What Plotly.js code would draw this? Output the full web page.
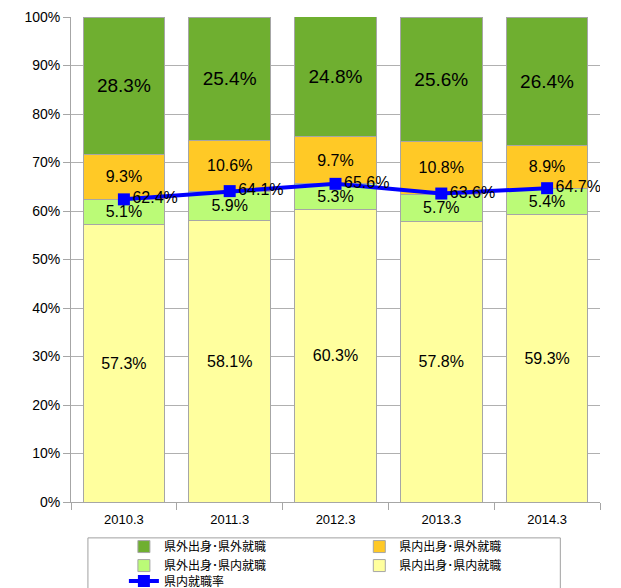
<!DOCTYPE html>
<html>
<head>
<meta charset="utf-8">
<script src="https://cdn.plot.ly/plotly-3.0.1.min.js"></script>
<style>
  body { margin: 0; background: #fff; }
  #chart { width: 621px; height: 588px; }
</style>
</head>
<body>
<div id="chart"></div>
<script>
// years (March of each year)
var years = ['2010.3', '2011.3', '2012.3', '2013.3', '2014.3']

// share of graduates, percent, bottom of the stack first
var inInStay = [57.3, 58.1, 60.3, 57.8, 59.3]   // 県内出身・県内就職
var outInStay = [5.1, 5.9, 5.3, 5.7, 5.4]       // 県外出身・県内就職
var inOutLeave = [9.3, 10.6, 9.7, 10.8, 8.9]    // 県内出身・県外就職
var outOutLeave = [28.3, 25.4, 24.8, 25.6, 26.4] // 県外出身・県外就職
// rate of employment inside the prefecture
var stayRate = [62.4, 64.1, 65.6, 63.6, 64.7]

var jp = '"Noto Sans CJK JP", "Liberation Sans", sans-serif'
var edge = {color: '#a6a6a6', width: 1}

function stackBar(name, vals, color, leg, rank, size){
	return {
		type: 'bar',
		name: name,
		x: years,
		y: vals,
		marker: {color: color, line: edge},
		text: vals.map(function(v){ return v.toFixed(1) + '%' }),
		textposition: 'inside',
		insidetextanchor: 'middle',
		textangle: 0,
		constraintext: 'none',
		textfont: {family: 'Liberation Sans, sans-serif', size: size, color: '#000'},
		hoverinfo: 'skip',
		legend: leg,
		legendrank: rank
	}
}

var data = [
	stackBar('県内出身･県内就職', inInStay, '#ffff9e', 'legend2', 2, 16),
	stackBar('県外出身･県内就職', outInStay, '#bbfb77', 'legend', 2, 16),
	stackBar('県内出身･県外就職', inOutLeave, '#ffc926', 'legend2', 1, 16),
	stackBar('県外出身･県外就職', outOutLeave, '#6faf30', 'legend', 1, 19),
	{
		type: 'scatter',
		mode: 'lines+markers+text',
		name: '県内就職率',
		x: years,
		y: stayRate,
		line: {color: '#0000ff', width: 4},
		marker: {color: '#0000ff', symbol: 'square', size: 12},
		text: stayRate.map(function(v){ return v.toFixed(1) + '%' }),
		textposition: 'middle right',
		textfont: {family: 'Liberation Sans, sans-serif', size: 16, color: '#000'},
		legend: 'legend3'
	}
]

var legendBase = {
	orientation: 'v',
	traceorder: 'normal',
	xanchor: 'left',
	y: -0.062,
	yanchor: 'top',
	bgcolor: 'rgba(0,0,0,0)',
	borderwidth: 0,
	font: {family: jp, size: 12},
	tracegroupgap: 0,
	itemwidth: 30
}

var layout = {
	width: 621,
	height: 588,
	margin: {l: 71, r: 21, t: 17, b: 86, autoexpand: false},
	barmode: 'stack',
	bargap: 0.23,
	paper_bgcolor: '#fff',
	plot_bgcolor: '#fff',
	font: {family: jp, size: 13, color: '#000'},
	showlegend: true,
	xaxis: {
		type: 'category',
		showline: true,
		linecolor: '#a6a6a6',
		ticks: 'outside',
		tickson: 'boundaries',
		ticklen: 7,
		tickcolor: '#a6a6a6',
		ticklabelstandoff: 5,
		tickfont: {family: 'Liberation Sans, sans-serif', size: 13},
		showgrid: false
	},
	yaxis: {
		range: [0, 100],
		dtick: 10,
		ticksuffix: '%',
		showline: true,
		linecolor: '#a6a6a6',
		ticks: 'outside',
		ticklen: 7,
		tickcolor: '#a6a6a6',
		showgrid: true,
		gridcolor: '#b0b0b0',
		zeroline: false,
		tickfont: {family: 'Liberation Sans, sans-serif', size: 14}
	},
	legend: Object.assign({}, legendBase, {x: 0.1}),
	legend2: Object.assign({}, legendBase, {x: 0.545}),
	legend3: Object.assign({}, legendBase, {x: 0.1, y: -0.133}),
	// legend frame (runs off the bottom of the picture)
	shapes: [{
		type: 'rect',
		xref: 'paper', yref: 'paper',
		x0: 0.032, x1: 0.925,
		y0: -0.074, y1: -0.25,
		line: {color: '#a0a0a0', width: 1}
	}]
}

Plotly.newPlot('chart', data, layout, {displayModeBar: false, staticPlot: true})
</script>
</body>
</html>
